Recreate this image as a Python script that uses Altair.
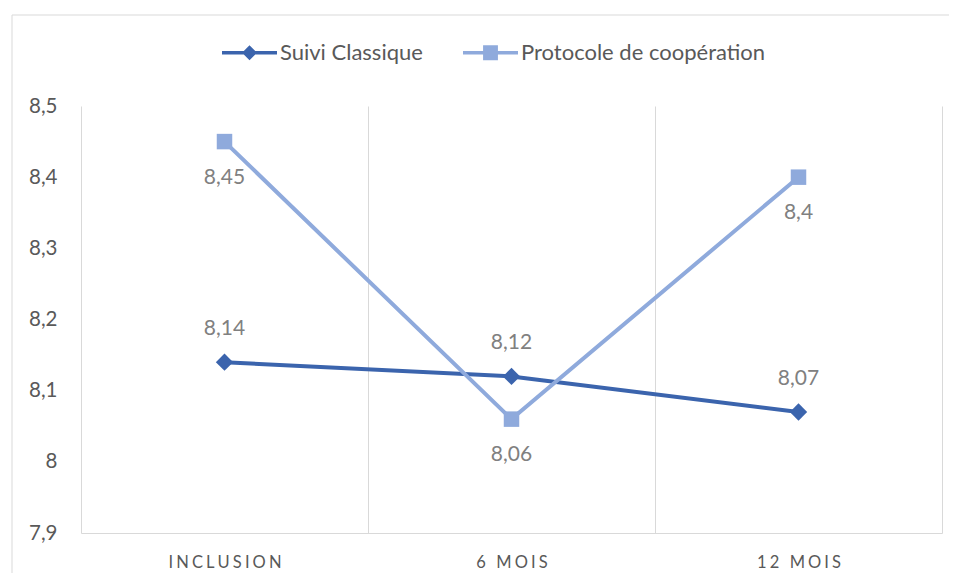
import altair as alt
import pandas as pd

categories = ["INCLUSION", "6 MOIS", "12 MOIS"]
series = ["Suivi Classique", "Protocole de coopération"]
suivi = [8.14, 8.12, 8.07]
protocole = [8.45, 8.06, 8.40]
y_ticks = [7.9, 8.0, 8.1, 8.2, 8.3, 8.4, 8.5]
colors = ["#3B64AD", "#8FAADC"]

FONT = "Lato"
GRID = "#D9D9D9"
TXT = "#595959"
LBL = "#808080"

rows = []
for s, vals in zip(series, [suivi, protocole]):
    for i, (c, v) in enumerate(zip(categories, vals)):
        rows.append({"cat": c, "idx": i, "serie": s, "value": v,
                     "label": f"{v:g}".replace(".", ",")})
df = pd.DataFrame(rows)

color_scale = alt.Scale(domain=series, range=colors)

x_enc = alt.X(
    "cat:N", sort=categories, bandPosition=0.5,
    scale=alt.Scale(type="band", domain=categories, paddingInner=0, paddingOuter=0),
    axis=alt.Axis(title=None, labelAngle=0, tickBand="extent", grid=True,
                  gridColor=GRID, gridWidth=1, ticks=False, domainColor=GRID,
                  domainWidth=1, labelFont=FONT, labelFontSize=16.5, labelColor=TXT,
                  labelPadding=21,
                  labelExpr="join(split(datum.label, ''), '\u2009\u200a')"),
)
y_enc = alt.Y(
    "value:Q",
    scale=alt.Scale(domain=[7.9, 8.5], nice=False, zero=False),
    axis=alt.Axis(title=None, values=y_ticks, grid=False, ticks=False, domain=False,
                  labelFont=FONT, labelFontSize=20.5, labelColor=TXT, labelPadding=24,
                  labelExpr="replace(format(datum.value, '~g'), '.', ',')"),
)

base = alt.Chart(df)


def series_layers(k, shape, size, dy):
    sub = base.transform_filter(alt.datum.serie == series[k])
    line = sub.mark_line(strokeWidth=4, color=colors[k]).encode(
        x=x_enc, y=y_enc, order=alt.Order("idx:Q"))
    pts = sub.mark_point(filled=True, opacity=1, shape=shape, size=size,
                         color=colors[k]).encode(x=x_enc, y=y_enc)
    txt = sub.mark_text(font=FONT, fontSize=21, color=LBL, baseline="middle",
                        align="center", dy=dy).encode(
        x=x_enc, y=y_enc, text="label:N")
    return [line, pts, txt]


path_line_diamond = ("M-1,-0.06 H1 V0.06 H-1 Z "
                     "M0,-0.27 L0.27,0 L0,0.27 L-0.27,0 Z")
path_line_square = ("M-1,-0.06 H1 V0.06 H-1 Z "
                    "M-0.27,-0.27 H0.27 V0.27 H-0.27 Z")

leg = alt.Legend(title=None, orient="none", legendX=141, legendY=-81,
                 direction="horizontal", symbolSize=3025, symbolStrokeWidth=0,
                 symbolOpacity=1, labelLimit=0,
                 labelFont=FONT, labelFontSize=22, labelColor=TXT, labelOffset=3,
                 columnPadding=40, padding=0)

legend_layer = base.mark_point(filled=True, opacity=0).encode(
    x=x_enc, y=y_enc,
    color=alt.Color("serie:N", scale=color_scale, legend=leg),
    shape=alt.Shape("serie:N",
                    scale=alt.Scale(domain=series,
                                    range=[path_line_diamond, path_line_square]),
                    legend=leg),
)

one = alt.Data(values=[{"a": 1}])
left_border = alt.Chart(one).mark_rule(color=GRID, strokeWidth=1).encode(
    x=alt.value(-69), y=alt.value(-91), y2=alt.value(467))
top_border = alt.Chart(one).mark_rule(color=GRID, strokeWidth=1).encode(
    x=alt.value(-69), x2=alt.value(868), y=alt.value(-91))

layers = ([left_border, top_border]
          + series_layers(0, "diamond", 300, -33)
          + series_layers(1, "square", 240, 36)
          + [legend_layer])

chart = alt.layer(*layers).properties(
    width=861, height=427,
    autosize=alt.AutoSizeParams(type="none"),
    padding={"left": 73, "top": 98, "right": 7, "bottom": 40},
).configure_view(stroke=None)

chart.save("out.html", embed_options={"renderer": "svg", "actions": False})
